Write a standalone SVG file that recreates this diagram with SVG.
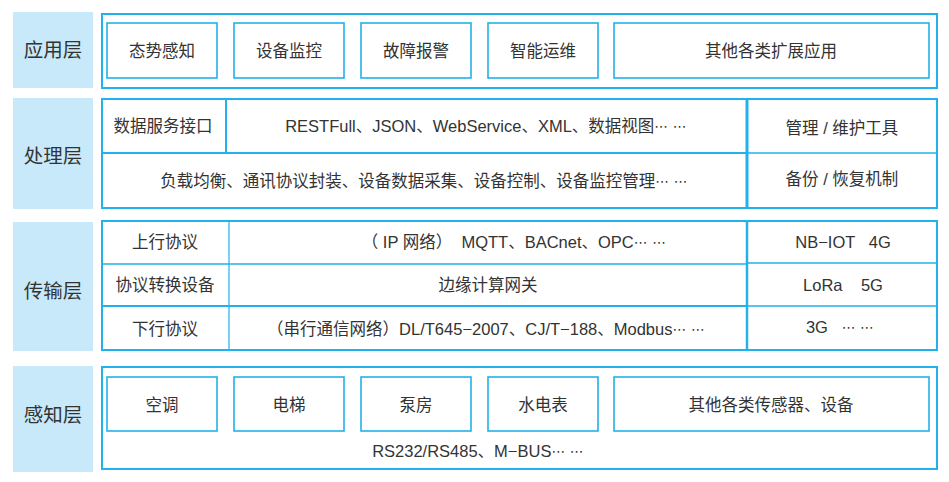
<svg xmlns="http://www.w3.org/2000/svg" width="949" height="482" viewBox="0 0 949 482" xml:space="preserve">
<style>
.lbl{fill:#c7e9f9}
.frame{fill:#fff;stroke:#22b1ea;stroke-width:2}
.box{fill:#fff;stroke:#22b1ea;stroke-width:1.6}
.ln{stroke:#22b1ea;fill:none}
text{font-family:"Liberation Sans","Noto Sans CJK SC",sans-serif;fill:#333;text-anchor:middle;dominant-baseline:central;white-space:pre}
.t{font-size:16.5px}
.h{font-size:19.5px}
.e{font-family:"DejaVu Sans",sans-serif;font-size:14px}
</style>
<rect width="949" height="482" fill="#fff"/>
<g id="app">
<rect class="lbl" x="13" y="12" width="80" height="76"/>
<text class="h" x="53" y="50">应用层</text>
<rect class="frame" x="102" y="14" width="835" height="74"/>
<rect class="box" x="107" y="23" width="110" height="55"/><text class="t" x="162" y="51">态势感知</text>
<rect class="box" x="234" y="23" width="110" height="55"/><text class="t" x="289" y="51">设备监控</text>
<rect class="box" x="361" y="23" width="110" height="55"/><text class="t" x="416" y="51">故障报警</text>
<rect class="box" x="488" y="23" width="110" height="55"/><text class="t" x="543" y="51">智能运维</text>
<rect class="box" x="614" y="23" width="315" height="55"/><text class="t" x="771" y="51">其他各类扩展应用</text>
</g>
<g id="proc">
<rect class="lbl" x="13" y="98" width="80" height="111"/>
<text class="h" x="53" y="156">处理层</text>
<rect class="frame" x="102" y="99" width="835" height="109"/>
<text class="t" x="163" y="126">数据服务接口</text>
<text class="t" x="486" y="126">RESTFull、JSON、WebService、XML、数据视图<tspan class="e">⋯ ⋯</tspan></text>
<text class="t" x="424" y="181">负载均衡、通讯协议封装、设备数据采集、设备控制、设备监控管理<tspan class="e">⋯ ⋯</tspan></text>
<text class="t" x="842" y="128">管理 / 维护工具</text>
<text class="t" x="842" y="179">备份 / 恢复机制</text>
</g>
<g id="trans">
<rect class="lbl" x="13" y="222" width="80" height="129"/>
<text class="h" x="53" y="291">传输层</text>
<rect class="frame" x="102" y="221" width="835" height="129"/>
<text class="t" x="165" y="242">上行协议</text>
<text class="t" x="165" y="285">协议转换设备</text>
<text class="t" x="165" y="329">下行协议</text>
<text class="t" x="514" y="242">（ IP 网络）  MQTT、BACnet、OPC<tspan class="e">⋯ ⋯</tspan></text>
<text class="t" x="488" y="285">边缘计算网关</text>
<text class="t" x="486" y="329">（串行通信网络）DL/T645−2007、CJ/T−188、Modbus<tspan class="e">⋯ ⋯</tspan></text>
<text class="t" x="843" y="242">NB−IOT   4G</text>
<text class="t" x="843" y="285">LoRa    5G</text>
<text class="t" x="840" y="327">3G   <tspan class="e">⋯ ⋯</tspan></text>
</g>
<g id="sense">
<rect class="lbl" x="13" y="366" width="80" height="106"/>
<text class="h" x="53" y="415">感知层</text>
<rect class="frame" x="102" y="367" width="835" height="102"/>
<rect class="box" x="107" y="377" width="110" height="54"/><text class="t" x="162" y="405">空调</text>
<rect class="box" x="234" y="377" width="110" height="54"/><text class="t" x="289" y="405">电梯</text>
<rect class="box" x="361" y="377" width="110" height="54"/><text class="t" x="416" y="405">泵房</text>
<rect class="box" x="488" y="377" width="110" height="54"/><text class="t" x="543" y="405">水电表</text>
<rect class="box" x="614" y="377" width="315" height="54"/><text class="t" x="771" y="405">其他各类传感器、设备</text>
<text class="t" x="478" y="451">RS232/RS485、M−BUS<tspan class="e">⋯ ⋯</tspan></text>
</g>
<g id="connectors">
<line class="ln" x1="226" y1="99" x2="226" y2="153" stroke-width="2"/>
<line class="ln" x1="102" y1="153" x2="747" y2="153" stroke-width="2"/>
<line class="ln" x1="747" y1="99" x2="747" y2="208" stroke-width="3"/>
<line class="ln" x1="747" y1="153" x2="937" y2="153" stroke-width="1.3"/>
<line class="ln" x1="229" y1="221" x2="229" y2="350" stroke-width="1.2"/>
<line class="ln" x1="102" y1="264" x2="747" y2="264" stroke-width="1.5"/>
<line class="ln" x1="102" y1="306" x2="747" y2="306" stroke-width="2"/>
<line class="ln" x1="747" y1="221" x2="747" y2="350" stroke-width="2.5"/>
<line class="ln" x1="747" y1="263" x2="937" y2="263" stroke-width="1.3"/>
<line class="ln" x1="747" y1="306" x2="937" y2="306" stroke-width="1.3"/>
</g>
</svg>
